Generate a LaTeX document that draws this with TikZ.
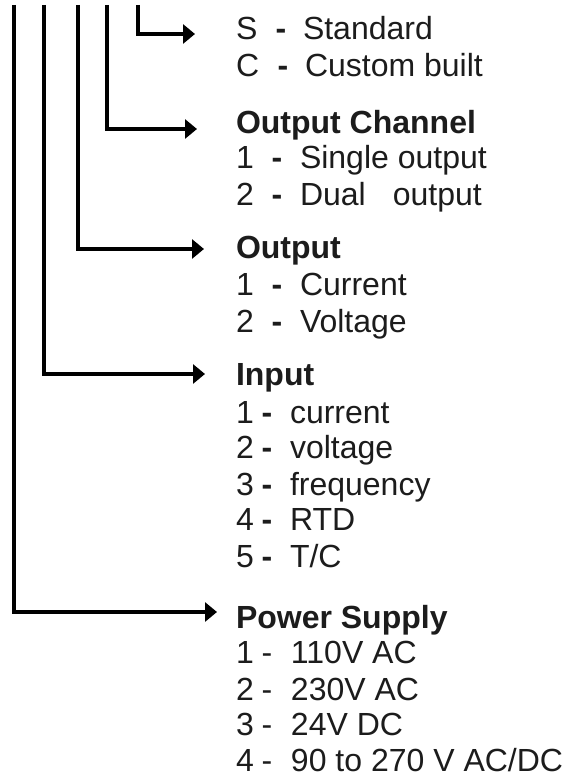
\documentclass[tikz,border=0pt]{standalone}
\usepackage{fontspec}
\setmainfont{Liberation Sans}
\usetikzlibrary{arrows.meta}
\definecolor{ink}{HTML}{1C1C1C}
\newcommand\lne[5]{\rlap{#1}\hspace{#2pt}\rlap{#3}\hspace{#4pt}#5}
\begin{document}
\begin{tikzpicture}[x=1pt,y=-1pt,
  conn/.style={line width=3.6pt,black,-{Triangle[length=12pt,width=19pt]}},
  txt/.style={anchor=base west,inner sep=0pt,outer sep=0pt,text=ink,
    font=\fontsize{32}{36}\selectfont},
  ttl/.style={txt,font=\fontsize{32}{36}\selectfont\bfseries}]
\useasboundingbox[fill=white] (0,0) rectangle (579,776);
% connector end points
\coordinate (s1) at (14,5);  \coordinate (e1) at (217,612);
\coordinate (s2) at (44,5);  \coordinate (e2) at (205,374);
\coordinate (s3) at (78,5);  \coordinate (e3) at (204,249);
\coordinate (s4) at (107,5); \coordinate (e4) at (197,129);
\coordinate (s5) at (138,5); \coordinate (e5) at (195,34);
\draw[conn] (s1) |- (e1);
\draw[conn] (s2) |- (e2);
\draw[conn] (s3) |- (e3);
\draw[conn] (s4) |- (e4);
\draw[conn] (s5) |- (e5);
% build type
\node[txt] (b1) at (236,40) {\lne{S}{39.6}{\textbf{-}}{27.4}{Standard}};
\node[txt] (b2) at (236,77) {\lne{C}{41.6}{\textbf{-}}{27.4}{Custom built}};
% output channel
\node[ttl] (oc) at (236,133) {Output Channel};
\node[txt] (oc1) at (236,168) {\lne{1}{35.6}{\textbf{-}}{28.4}{Single output}};
\node[txt] (oc2) at (236,205) {\lne{2}{35.6}{\textbf{-}}{28.4}{Dual\hspace{27pt}output}};
% output
\node[ttl] (ou) at (236,258) {Output};
\node[txt] (ou1) at (236,295) {\lne{1}{35.6}{\textbf{-}}{28.4}{Current}};
\node[txt] (ou2) at (236,332) {\lne{2}{35.6}{\textbf{-}}{28.4}{Voltage}};
% input
\node[ttl] (in) at (236,385) {Input};
\node[txt] (in1) at (236,423) {\lne{1}{25.6}{\textbf{-}}{28.4}{current}};
\node[txt] (in2) at (236,458) {\lne{2}{25.6}{\textbf{-}}{28.4}{voltage}};
\node[txt] (in3) at (236,495) {\lne{3}{25.6}{\textbf{-}}{28.4}{frequency}};
\node[txt] (in4) at (236,530) {\lne{4}{25.6}{\textbf{-}}{28.4}{RTD}};
\node[txt] (in5) at (236,567) {\lne{5}{25.6}{\textbf{-}}{28.4}{T/C}};
% power supply
\node[ttl] (ps) at (236,628) {Power Supply};
\node[txt] (ps1) at (236,663) {\lne{1}{25.6}{-}{29.4}{110V AC}};
\node[txt] (ps2) at (236,700) {\lne{2}{25.6}{-}{29.4}{230V AC}};
\node[txt] (ps3) at (236,735) {\lne{3}{25.6}{-}{29.4}{24V DC}};
\node[txt] (ps4) at (236,771.5) {\lne{4}{25.6}{-}{29.4}{90 to 270 V AC/DC}};
\end{tikzpicture}
\end{document}
